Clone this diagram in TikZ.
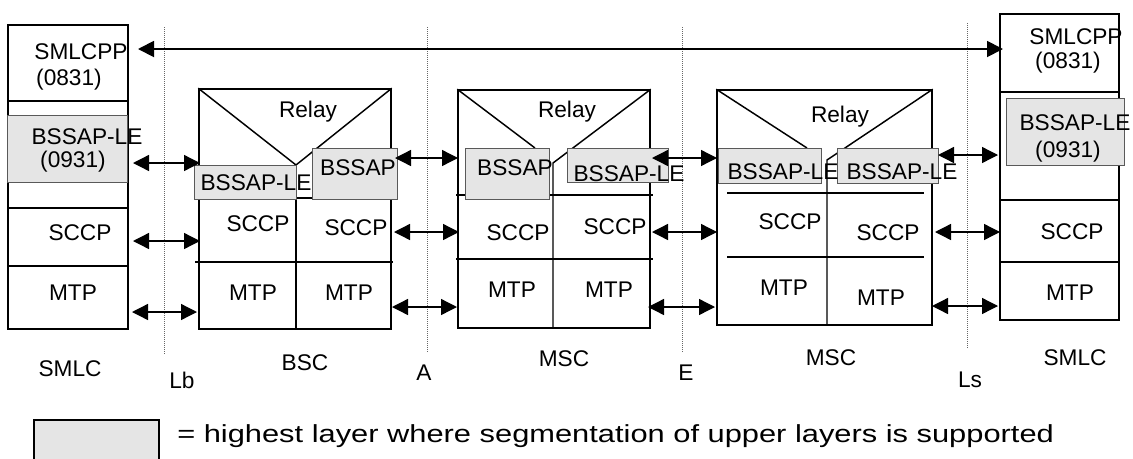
\documentclass[tikz,border=0pt]{standalone}
\usepackage{fontspec}
\setmainfont{Liberation Sans}
\newfontfamily\legendfont[FakeStretch=1.25]{Liberation Sans}
\usetikzlibrary{arrows.meta,fit}

\definecolor{layergrey}{gray}{0.9}

\tikzset{
  stackbox/.style={draw, line width=1.1pt, inner sep=0pt},
  greybox/.style={draw=black!65, line width=0.6pt, fill=layergrey, inner sep=0pt},
  lbl/.style={inner sep=0pt, font=\fontsize{17}{17}\selectfont},
  dbl/.style={{Triangle[length=12pt,width=12pt]}-{Triangle[length=12pt,width=12pt]}, line width=1pt},
  iface/.style={densely dotted, line width=0.5pt, black!60},
}

\begin{document}
\begin{tikzpicture}[x=0.75pt, y=-0.75pt]
\useasboundingbox (0,0) rectangle (1133,458);

% interfaces
\coordinate (lbT) at (164,27);  \coordinate (lbB) at (164,355);
\coordinate (aT) at (427,27);   \coordinate (aB) at (427,353);
\coordinate (eT) at (682,27);   \coordinate (eB) at (682,352);
\coordinate (lsT) at (967,23);  \coordinate (lsB) at (967,348);
\draw[iface] (lbT) -- (lbB);
\draw[iface] (aT) -- (aB);
\draw[iface] (eT) -- (eB);
\draw[iface] (lsT) -- (lsB);

% SMLC left
\node[stackbox, fit={(8,25) (128,329)}] (smlcL) {};
\draw[line width=1.1pt] (8,101) -- (128,101);
\draw[line width=1.1pt] (8,208) -- (128,208);
\draw[line width=1.1pt] (8,266) -- (128,266);
\node[greybox, fit={(7,115) (127,182)}] (leL) {};

% BSC
\node[stackbox, fit={(199,89) (391,329)}] (bsc) {};
\draw[line width=1.1pt] (bsc.north west) -- (296,165) -- (bsc.north east);
\draw[line width=1.1pt] (199,198) -- (391,198);
\draw[line width=1.1pt] (296,165) -- (296,329);
\draw[line width=1.1pt] (195,262) -- (393,262);
\node[greybox, fit={(194,165) (296,199)}] (bscLe) {};
\node[greybox, fit={(312,148) (397,199)}] (bscAp) {};

% MSC (A side)
\node[stackbox, fit={(458,90) (650,328)}] (mscA) {};
\draw[line width=1.1pt] (mscA.north west) -- (535,148);
\draw[line width=1.1pt] (mscA.north east) -- (553,163) -- (553,328);
\draw[line width=1.1pt] (456,195) -- (653,195);
\draw[line width=1.1pt] (456,259) -- (653,259);
\node[greybox, fit={(465,148) (549,199)}] (mscAAp) {};
\node[greybox, fit={(567,148) (668,182)}] (mscALe) {};

% MSC (E side)
\node[stackbox, fit={(717,90) (932,325)}] (mscB) {};
\draw[line width=1.1pt] (mscB.north west) -- (807,148);
\draw[line width=1.1pt] (mscB.north east) -- (827,160) -- (827,325);
\draw[line width=1.1pt] (727,193) -- (924,193);
\draw[line width=1.1pt] (727,257) -- (924,257);
\node[greybox, fit={(718,148) (821,183)}] (mscBLe) {};
\node[greybox, fit={(837,148) (938,183)}] (mscBLe2) {};

% SMLC right
\node[stackbox, fit={(1000,14) (1119,320)}] (smlcR) {};
\draw[line width=1.1pt] (1000,92) -- (1119,92);
\draw[line width=1.1pt] (1000,200) -- (1119,200);
\draw[line width=1.1pt] (1000,262) -- (1119,262);
\node[greybox, fit={(1006,98) (1124,165)}] (leR) {};

% layer texts
\node[lbl] (smlcLcpp) at (81,52) {SMLCPP};
\node[lbl] (smlcLcppN) at (69,80) {(0831)};
\node[lbl] (smlcLle) at (87,137) {BSSAP-LE};
\node[lbl] (smlcLleN) at (73,162) {(0931)};
\node[lbl] (smlcLsccp) at (80,233) {SCCP};
\node[lbl] (smlcLmtp) at (73,293) {MTP};

\node[lbl] (bscRelay) at (308,112) {Relay};
\node[lbl] (bscLeT) at (256,183) {BSSAP-LE};
\node[lbl] (bscApT) at (358,168) {BSSAP};
\node[lbl] (bscSccpL) at (258,224) {SCCP};
\node[lbl] (bscSccpR) at (356,228) {SCCP};
\node[lbl] (bscMtpL) at (253,293) {MTP};
\node[lbl] (bscMtpR) at (349,293) {MTP};

\node[lbl] (mscARelay) at (567,112) {Relay};
\node[lbl] (mscAApT) at (515,168) {BSSAP};
\node[lbl] (mscALeT) at (629,174) {BSSAP-LE};
\node[lbl] (mscASccpL) at (518,233) {SCCP};
\node[lbl] (mscASccpR) at (615,227) {SCCP};
\node[lbl] (mscAMtpL) at (512,290) {MTP};
\node[lbl] (mscAMtpR) at (609,290) {MTP};

\node[lbl] (mscBRelay) at (840,117) {Relay};
\node[lbl] (mscBLeT) at (783,172) {BSSAP-LE};
\node[lbl] (mscBLe2T) at (902,172) {BSSAP-LE};
\node[lbl] (mscBSccpL) at (790,222) {SCCP};
\node[lbl] (mscBSccpR) at (888,233) {SCCP};
\node[lbl] (mscBMtpL) at (784,288) {MTP};
\node[lbl] (mscBMtpR) at (881,298) {MTP};

\node[lbl] (smlcRcpp) at (1076,37) {SMLCPP};
\node[lbl] (smlcRcppN) at (1068,63) {(0831)};
\node[lbl] (smlcRle) at (1075,123) {BSSAP-LE};
\node[lbl] (smlcRleN) at (1068,152) {(0931)};
\node[lbl] (smlcRsccp) at (1072,232) {SCCP};
\node[lbl] (smlcRmtp) at (1070,293) {MTP};

% entity and interface names
\node[lbl] (smlcLname) at (70,369) {SMLC};
\node[lbl] (bscName) at (305,363) {BSC};
\node[lbl] (mscAName) at (564,359) {MSC};
\node[lbl] (mscBName) at (831,358) {MSC};
\node[lbl] (smlcRname) at (1075,358) {SMLC};
\node[lbl] (lbName) at (182,380) {Lb};
\node[lbl] (aName) at (424,373) {A};
\node[lbl] (eName) at (686,373) {E};
\node[lbl] (lsName) at (970,380) {Ls};

% peer arrows
\coordinate (topL) at (138,49);   \coordinate (topR) at (1003,49);
\coordinate (lbLe1) at (133,163); \coordinate (lbLe2) at (200,163);
\coordinate (lbSc1) at (133,241); \coordinate (lbSc2) at (200,241);
\coordinate (lbMt1) at (132,312); \coordinate (lbMt2) at (197,312);
\coordinate (aAp1) at (395,158);  \coordinate (aAp2) at (458,158);
\coordinate (aSc1) at (394,232);  \coordinate (aSc2) at (459,232);
\coordinate (aMt1) at (392,307);  \coordinate (aMt2) at (457,307);
\coordinate (eLe1) at (652,158);  \coordinate (eLe2) at (717,158);
\coordinate (eSc1) at (652,232);  \coordinate (eSc2) at (717,232);
\coordinate (eMt1) at (648,307);  \coordinate (eMt2) at (715,307);
\coordinate (lsLe1) at (938,155); \coordinate (lsLe2) at (998,155);
\coordinate (lsSc1) at (935,232); \coordinate (lsSc2) at (1000,232);
\coordinate (lsMt1) at (932,306); \coordinate (lsMt2) at (998,306);
\draw[dbl, line width=1.4pt] (topL) -- (topR);
\draw[dbl] (lbLe1) -- (lbLe2);
\draw[dbl] (lbSc1) -- (lbSc2);
\draw[dbl] (lbMt1) -- (lbMt2);
\draw[dbl] (aAp1) -- (aAp2);
\draw[dbl] (aSc1) -- (aSc2);
\draw[dbl] (aMt1) -- (aMt2);
\draw[dbl] (eLe1) -- (eLe2);
\draw[dbl] (eSc1) -- (eSc2);
\draw[dbl] (eMt1) -- (eMt2);
\draw[dbl] (lsLe1) -- (lsLe2);
\draw[dbl] (lsSc1) -- (lsSc2);
\draw[dbl] (lsMt1) -- (lsMt2);

% legend
\node[greybox, draw=black, line width=1.1pt, fit={(34,420) (159,470)}] (legendBox) {};
\node[inner sep=0pt, anchor=base west, font=\legendfont\fontsize{18.5}{18.5}\selectfont] (legendText) at (177,442) {= highest layer where segmentation of upper layers is supported};
\end{tikzpicture}
\end{document}
